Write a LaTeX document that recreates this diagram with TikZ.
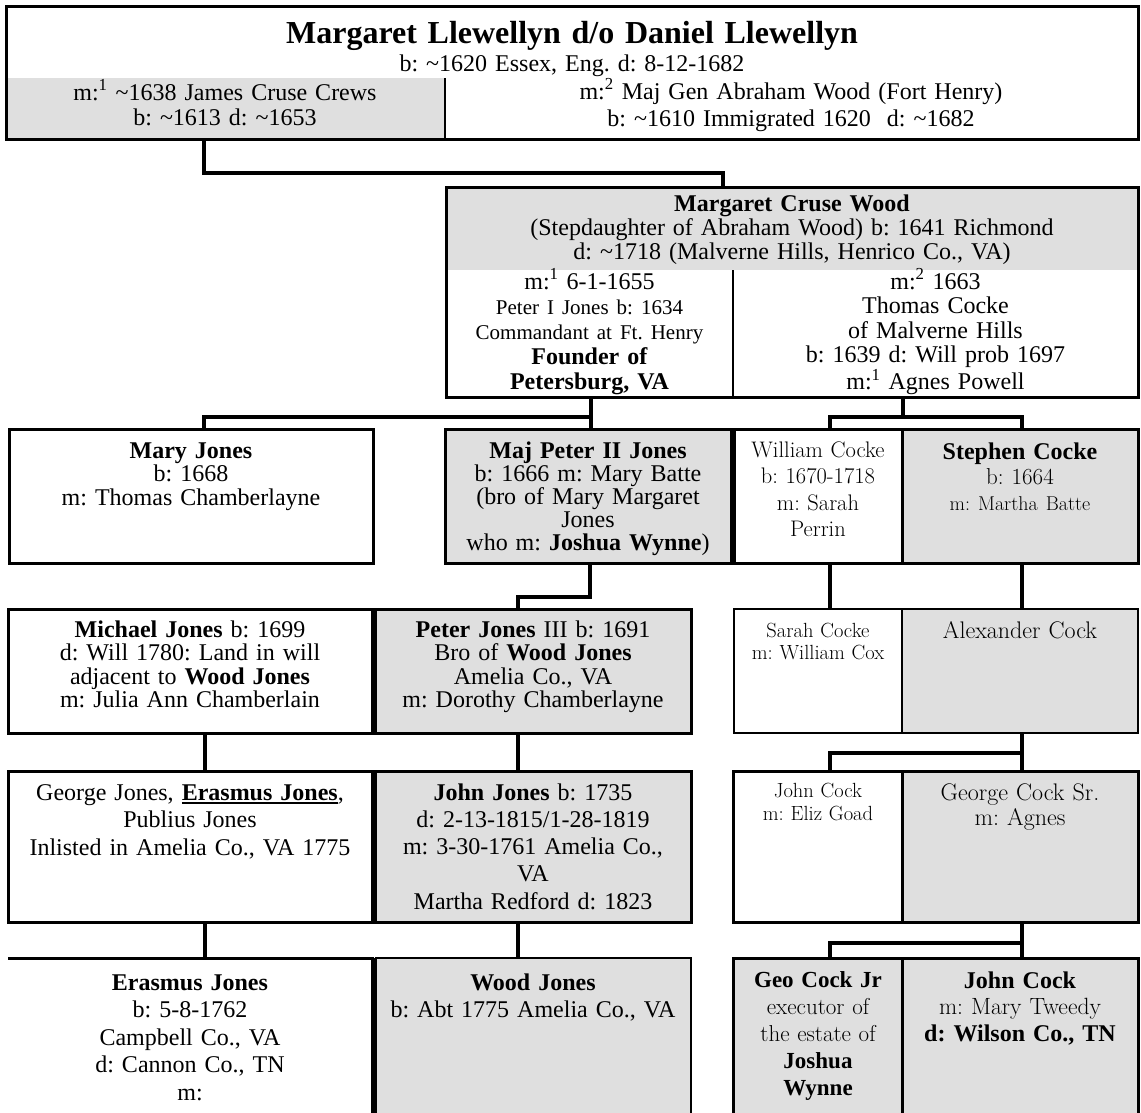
\documentclass[tikz,border=0pt]{standalone}
\usepackage{fontspec}
\setmainfont{Liberation Serif}
\newcommand\garfont{\fontfamily{lmr}\selectfont}
\newcommand\fsz[2]{\fontsize{#1pt}{#2pt}\selectfont}
\newcommand\ulbold[1]{{\sbox0{#1}\rlap{\rule[-3.5pt]{\wd0}{1.8pt}}\usebox0}}
\definecolor{cellgray}{RGB}{223,223,223}
\newcommand\cell[6]{\node[#2, anchor=north west, inner sep=0pt, outer sep=0pt,
  minimum width={(#5-#3)*1pt}, minimum height={(#6-#4)*1pt}] (#1) at (#3,#4) {};}
\tikzset{
  box/.style={draw=black, line width=3pt, fill=white},
  gbox/.style={draw=black, line width=3pt, fill=cellgray},
  tbox/.style={draw=black, line width=2.5pt, fill=white},
  tgbox/.style={draw=black, line width=2.5pt, fill=cellgray},
  gfill/.style={fill=cellgray},
  hollow/.style={draw=black, line width=3pt},
  blank/.style={},
  divline/.style={draw=black, line width=2pt},
  conn/.style={draw=black, line width=4pt, line join=miter},
  txt/.style={anchor=base, inner sep=0pt, align=center, text width=680pt},
}
\begin{document}
\frenchspacing
\begin{tikzpicture}[x=1pt, y=-1pt]
\useasboundingbox (0,0) rectangle (1141,1112);
\clip (0,0) rectangle (1141,1112);
\fill[white] (0,0) rectangle (1141,1112);

% ---------- top box
\cell{topL}{gfill}{6}{78}{445}{139}
\cell{topR}{blank}{445}{78}{1138}{139}
\cell{top}{hollow}{6}{6}{1138}{139}
\draw[divline] (topL.north east) -- (topL.south east);

% ---------- middle box
\cell{midH}{gfill}{446}{187}{1138}{270}
\cell{midL}{blank}{446}{270}{733}{397}
\cell{midR}{blank}{733}{270}{1138}{397}
\cell{mid}{hollow}{446}{187}{1138}{397}
\draw[divline] (midL.north east) -- (midL.south east);

% ---------- row 3
\cell{mary}{box}{9}{429}{373}{563}
\cell{maj}{gbox}{445}{429}{731}{563}
\cell{will}{box}{734}{429}{902}{563}
\cell{steph}{gbox}{902}{429}{1138}{563}

% ---------- row 4
\cell{mich}{box}{8}{609}{372}{733}
\cell{petc}{gbox}{375}{609}{691}{733}
\cell{sarah}{tbox}{734}{609}{902}{733}
\cell{alex}{tgbox}{902}{609}{1138}{733}

% ---------- row 5
\cell{leftv}{box}{8}{771}{372}{922}
\cell{johnj}{gbox}{375}{771}{691}{922}
\cell{johnc}{box}{733}{771}{902}{922}
\cell{georg}{gbox}{902}{771}{1138}{922}

% ---------- row 6
\cell{eras}{blank}{8}{958}{372}{1125}
\draw[line width=3pt] (eras.north west) -- (eras.north east) -- (eras.south east);
\cell{wood}{gfill}{375}{958}{691}{1125}
\draw[line width=1.2pt] (wood.south east) -- (wood.north east) -- (wood.north west);
\draw[line width=3pt] (wood.north west) -- (wood.south west);
\cell{geo}{gbox}{733}{958}{902}{1125}
\cell{johnk}{gbox}{902}{958}{1138}{1125}

% ---------- connector junctions
\coordinate (j1a) at (204,173);
\coordinate (j1b) at (723,173);
\coordinate (j2a) at (591,417);
\coordinate (j2b) at (204,417);
\coordinate (j3a) at (903,417);
\coordinate (j3b) at (830,417);
\coordinate (j3c) at (1022,417);
\coordinate (j4a) at (590,597);
\coordinate (j4b) at (518,597);
\coordinate (j6a) at (205,750);
\coordinate (j7a) at (1022,753);
\coordinate (j7b) at (830,753);
\coordinate (j9a) at (1022,943);
\coordinate (j9b) at (830,943);

\draw[conn] (top.south -| j1a) -- (j1a) -- (j1b) -- (mid.north -| j1b);
\draw[conn] (mid.south -| j2a) -- (maj.north -| j2a);
\draw[conn] (j2a) -- (j2b) -- (mary.north -| j2b);
\draw[conn] (mid.south -| j3a) -- (j3a);
\draw[conn] (will.north -| j3b) -- (j3b) -- (j3c) -- (steph.north -| j3c);
\draw[conn] (maj.south -| j4a) -- (j4a) -- (j4b) -- (petc.north -| j4b);
\draw[conn] (will.south -| j3b) -- (sarah.north -| j3b);
\draw[conn] (steph.south -| j3c) -- (alex.north -| j3c);
\draw[conn] (mich.south -| j6a) -- (leftv.north -| j6a);
\draw[conn] (petc.south -| j4b) -- (johnj.north -| j4b);
\draw[conn] (alex.south -| j7a) -- (georg.north -| j7a);
\draw[conn] (j7a) -- (j7b) -- (johnc.north -| j7b);
\draw[conn] (leftv.south -| j6a) -- (eras.north -| j6a);
\draw[conn] (johnj.south -| j4b) -- (wood.north -| j4b);
\draw[conn] (georg.south -| j9a) -- (johnk.north -| j9a);
\draw[conn] (j9a) -- (j9b) -- (geo.north -| j9b);

% ---------- texts: top
\node[txt, font={\bfseries\fsz{32}{36}}] (ttitle) at (572,43) {Margaret Llewellyn d/o Daniel Llewellyn};
\node[txt, font={\fsz{24}{27}}] (tborn) at (572,71) {b: \textasciitilde1620 Essex, Eng. d: 8-12-1682};
\node[txt, font={\fsz{24}{25}}] (tmone) at (225,100) {m:\textsuperscript{1} \textasciitilde1638 James Cruse Crews\\b: \textasciitilde1613 d: \textasciitilde1653};
\node[txt, font={\fsz{24}{27}}] (tmtwo) at (791,99) {m:\textsuperscript{2} Maj Gen Abraham Wood (Fort Henry)\\b: \textasciitilde1610 Immigrated 1620\ \ d: \textasciitilde1682};

% ---------- texts: middle
\node[txt, font={\fsz{24}{24}}] (mhead) at (792,211) {\textbf{Margaret Cruse Wood}\\(Stepdaughter of Abraham Wood) b: 1641 Richmond\\d: \textasciitilde1718 (Malverne Hills, Henrico Co., VA)};
\node[txt, font={\fsz{24}{25.2}}] (mleft) at (589.5,289) {m:\textsuperscript{1} 6-1-1655\\{\fsz{21}{25.2}Peter I Jones b: 1634}\\{\fsz{21}{25.2}Commandant at Ft. Henry}\\\textbf{Founder of}\\\textbf{Petersburg, VA}};
\node[txt, font={\fsz{24}{24.6}}] (mright) at (935.5,289) {m:\textsuperscript{2} 1663\\Thomas Cocke\\of Malverne Hills\\b: 1639 d: Will prob 1697\\m:\textsuperscript{1} Agnes Powell};

% ---------- texts: row 3
\node[txt, font={\fsz{24}{23.5}}] (tmary) at (191,458) {\textbf{Mary Jones}\\b: 1668\\m: Thomas Chamberlayne};
\node[txt, font={\fsz{24}{23}}] (tmaj) at (588,458) {\textbf{Maj Peter II Jones}\\b: 1666 m: Mary Batte\\(bro of Mary Margaret\\Jones\\who m: \textbf{Joshua Wynne})};
\node[txt, font={\garfont\fsz{22.5}{26.5}}] (twill) at (818,457) {William Cocke\\b: 1670-1718\\m: Sarah\\Perrin};
\node[txt, font={\fsz{24}{25.5}}] (tsteph) at (1020,459) {\textbf{Stephen Cocke}\\{\garfont\fsz{23}{25.5}b: 1664}\\{\garfont\fsz{20}{25.5}m: Martha Batte}};

% ---------- texts: row 4
\node[txt, font={\fsz{24}{23.5}}] (tmich) at (190,637) {\textbf{Michael Jones} b: 1699\\d: Will 1780: Land in will\\adjacent to \textbf{Wood Jones}\\m: Julia Ann Chamberlain};
\node[txt, font={\fsz{24}{23.5}}] (tpetc) at (533,637) {\textbf{Peter Jones} III b: 1691\\Bro of \textbf{Wood Jones}\\Amelia Co., VA\\m: Dorothy Chamberlayne};
\node[txt, font={\garfont\fsz{20.5}{22.5}}] (tsarah) at (818,637) {Sarah Cocke\\m: William Cox};
\node[txt, font={\garfont\fsz{24}{26}}] (talex) at (1020,638) {Alexander Cock};

% ---------- texts: row 5
\node[txt, font={\fsz{24}{27.5}}] (tleftv) at (190,800) {George Jones, \ulbold{\textbf{Erasmus Jones}},\\Publius Jones\\Inlisted in Amelia Co., VA 1775};
\node[txt, font={\fsz{24}{27.25}}] (tjohnj) at (533,800) {\textbf{John Jones} b: 1735\\d: 2-13-1815/1-28-1819\\m: 3-30-1761 Amelia Co.,\\VA\\Martha Redford d: 1823};
\node[txt, font={\garfont\fsz{20.5}{23}}] (tjohnc) at (818,797) {John Cock\\m: Eliz Goad};
\node[txt, font={\garfont\fsz{24}{25.5}}] (tgeorg) at (1020,800) {George Cock Sr.\\m: Agnes};

% ---------- texts: row 6
\node[txt, font={\fsz{24}{27.5}}] (teras) at (190,990) {\textbf{Erasmus Jones}\\b: 5-8-1762\\Campbell Co., VA\\d: Cannon Co., TN\\m:};
\node[txt, font={\fsz{24}{27}}] (twood) at (533,990) {\textbf{Wood Jones}\\b: Abt 1775 Amelia Co., VA};
\node[txt, font={\fsz{23}{27}}] (tgeo) at (818,987) {{\bfseries Geo Cock Jr}\\{\garfont executor of}\\{\garfont the estate of}\\{\bfseries Joshua}\\{\bfseries Wynne}};
\node[txt, font={\fsz{24}{26.5}}] (tjohnk) at (1020,988) {\textbf{John Cock}\\{\garfont\fsz{23.5}{26.5}m: Mary Tweedy}\\\textbf{d: Wilson Co., TN}};
\end{tikzpicture}
\end{document}
